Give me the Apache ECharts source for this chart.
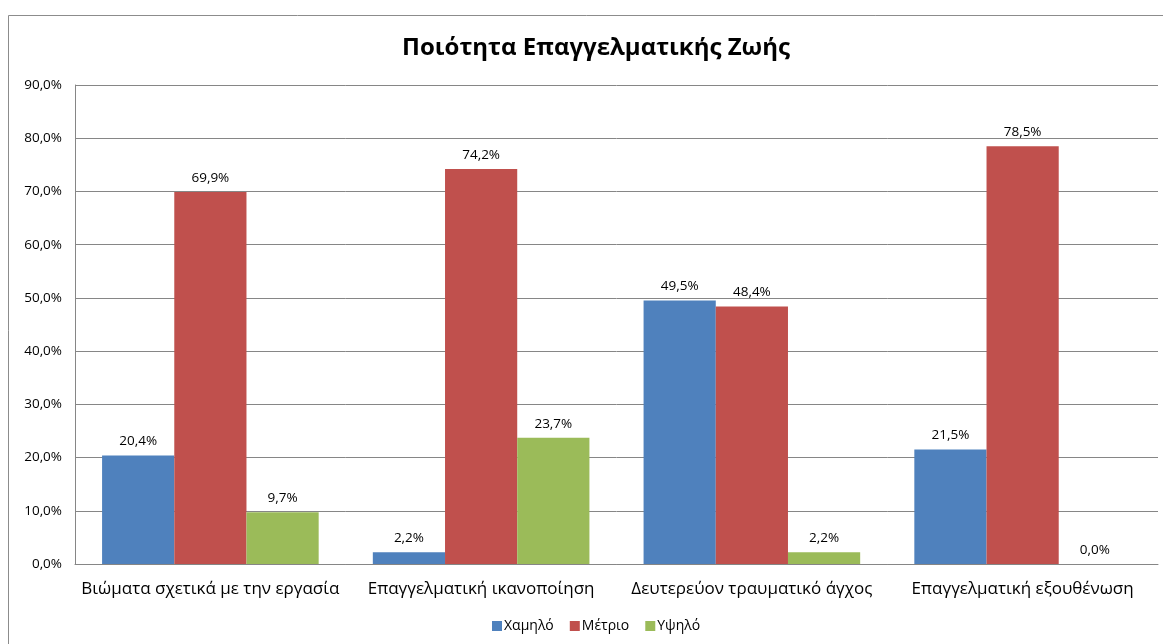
<!DOCTYPE html>
<html>
<head>
<meta charset="utf-8">
<script src="https://cdn.jsdelivr.net/npm/echarts@6/dist/echarts.min.js"></script>
<style>
  html, body { margin: 0; padding: 0; background: #fff; }
  #chart { width: 1163px; height: 644px; }
</style>
</head>
<body>
<div id="chart"></div>
<script>
const categories = [
    'Βιώματα σχετικά με την εργασία',
    'Επαγγελματική ικανοποίηση',
    'Δευτερεύον τραυματικό άγχος',
    'Επαγγελματική εξουθένωση'
];
const seriesNames = ['Χαμηλό', 'Μέτριο', 'Υψηλό'];
const low = [20.4, 2.2, 49.5, 21.5];
const medium = [69.9, 74.2, 48.4, 78.5];
const high = [9.7, 23.7, 2.2, 0.0];
const colors = ['#4F81BD', '#C0504D', '#9BBB59'];

const fmt = v => v.toFixed(1).replace('.', ',') + '%';
const font = '"Open Sans", "Noto Sans", sans-serif';

const chart = echarts.init(document.getElementById('chart'));

const makeSeries = (name, data, color) => ({
    name: name,
    type: 'bar',
    data: data,
    barGap: '0%',
    barCategoryGap: '20%',
    itemStyle: { color: color },
    label: {
        show: true,
        position: 'top',
        distance: 7,
        color: '#000',
        fontSize: 13.5,
        fontFamily: font,
        formatter: p => fmt(p.value)
    }
});

chart.setOption({
    backgroundColor: '#fff',
    animation: false,
    color: colors,
    title: {
        text: 'Ποιότητα Επαγγελματικής Ζωής',
        left: 397,
        top: 31,
        textStyle: { fontSize: 24, fontWeight: 'bold', color: '#000', fontFamily: font }
    },
    legend: {
        data: seriesNames,
        bottom: 6,
        left: 487,
        itemWidth: 10,
        itemHeight: 10,
        itemGap: 16,
        icon: 'rect',
        textStyle: { fontSize: 14, color: '#000', fontFamily: font, padding: [0, 0, 0, -3] }
    },
    graphic: [{
        type: 'rect',
        shape: { x: 8.5, y: 15.5, width: 1180, height: 660 },
        style: { fill: 'none', stroke: '#8c8c8c', lineWidth: 1 },
        silent: true
    }],
    grid: { left: 75, right: 5, top: 85, bottom: 80 },
    xAxis: {
        type: 'category',
        data: categories,
        axisLine: { lineStyle: { color: '#868686' } },
        axisTick: { show: false },
        axisLabel: { color: '#000', fontSize: 17, fontFamily: font, margin: 17, interval: 0 }
    },
    yAxis: {
        type: 'value',
        min: 0,
        max: 90,
        interval: 10,
        axisLine: { show: true, lineStyle: { color: '#868686' } },
        axisTick: { show: false },
        splitLine: { lineStyle: { color: '#868686' } },
        axisLabel: { color: '#000', fontSize: 13.5, fontFamily: font, margin: 13, formatter: v => fmt(v) }
    },
    series: [
        makeSeries(seriesNames[0], low, colors[0]),
        makeSeries(seriesNames[1], medium, colors[1]),
        makeSeries(seriesNames[2], high, colors[2])
    ]
});
</script>
</body>
</html>
